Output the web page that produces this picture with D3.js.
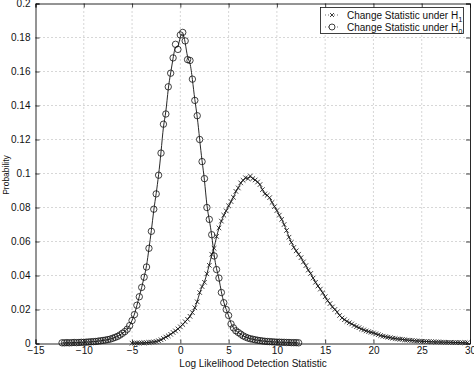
<!DOCTYPE html>
<html><head><meta charset="utf-8">
<script src="https://cdn.jsdelivr.net/npm/d3@7"></script>
<style>body{margin:0;background:#fff}text{font-family:"Liberation Sans",Arial,sans-serif;fill:#111}</style>
</head><body><svg id="c" width="474" height="369"></svg>
<script>
// ---- data ----
const xTicks = [-15,-10,-5,0,5,10,15,20,25,30];
const yTicks = [0,0.02,0.04,0.06,0.08,0.1,0.12,0.14,0.16,0.18,0.2];
const h0Start = -12.25, h0Step = 0.25;
const h0Values = [
 0.0004,0.0004,0.0005,0.0004,0.0005,0.0006,0.0005,0.0006,0.0007,0.0007,
 0.0008,0.0009,0.0010,0.0011,0.0012,0.0014,0.0016,0.0018,0.0020,0.0023,
 0.0026,0.0031,0.0036,0.0042,0.0050,0.0060,0.0070,0.0084,0.0105,0.0135,
 0.0170,0.0225,0.0275,0.0330,0.0390,0.0450,0.0560,0.0660,0.0790,0.0880,
 0.0990,0.1120,0.1290,0.1350,0.1510,0.1590,0.1680,0.1760,0.1730,0.1815,
 0.1830,0.1780,0.1670,0.1665,0.1555,0.1430,0.1340,0.1200,0.1070,0.0970,
 0.0800,0.0730,0.0640,0.0515,0.0435,0.0385,0.0300,0.0240,0.0200,0.0165,
 0.0115,0.0092,0.0075,0.0065,0.0055,0.0045,0.0038,0.0032,0.0028,0.0025,
 0.0022,0.0019,0.0017,0.0015,0.0013,0.0012,0.0011,0.0010,0.0009,0.0008,
 0.0008,0.0007,0.0007,0.0006,0.0006,0.0005,0.0005,0.0005,0.0004];
const h1Start = -5, h1Step = 0.25;
const h1Values = [
 0.0002,0.0002,0.0003,0.0003,0.0004,0.0004,0.0005,0.0006,0.0008,0.0009,
 0.0012,0.0016,0.0022,0.0030,0.0038,0.0045,0.0054,0.0065,0.0074,0.0086,
 0.0098,0.0112,0.0128,0.0142,0.0160,0.0182,0.0210,0.0245,0.0300,0.0335,
 0.0360,0.0410,0.0460,0.0525,0.0560,0.0630,0.0680,0.0720,0.0755,0.0780,
 0.0810,0.0835,0.0860,0.0895,0.0915,0.0945,0.0960,0.0975,0.0970,0.0985,
 0.0970,0.0962,0.0950,0.0935,0.0905,0.0880,0.0872,0.0858,0.0830,0.0805,
 0.0782,0.0755,0.0730,0.0700,0.0665,0.0625,0.0595,0.0565,0.0545,0.0525,
 0.0505,0.0480,0.0458,0.0432,0.0412,0.0385,0.0360,0.0338,0.0320,0.0298,
 0.0275,0.0252,0.0235,0.0215,0.0200,0.0185,0.0165,0.0150,0.0140,0.0130,
 0.0122,0.0115,0.0106,0.0099,0.0093,0.0085,0.0080,0.0074,0.0070,0.0066,
 0.0062,0.0057,0.0052,0.0047,0.0043,0.0040,0.0037,0.0034,0.0031,0.0029,
 0.0027,0.0025,0.0024,0.0022,0.0020,0.0019,0.0018,0.0016,0.0015,0.0014,
 0.0013,0.0012,0.0012,0.0011,0.0010,0.0010,0.0009,0.0009,0.0008,0.0008,
 0.0007,0.0007,0.0007,0.0006,0.0006,0.0006,0.0005,0.0005,0.0005,0.0005];
const legendLabels = [["Change Statistic under H","1"],["Change Statistic under H","0"]];
const xLabel = "Log Likelihood Detection Statistic";
const yLabel = "Probability";

// ---- chart ----
const svg = d3.select("#c");
const L = 35.5, R = 470, T = 3.5, B = 343.5;
const x = d3.scaleLinear().domain([-15,30]).range([L,R]);
const y = d3.scaleLinear().domain([0,0.2]).range([B,T]);
const h0 = h0Values.map((v,i)=>({x:h0Start+i*h0Step,y:v}));
const h1 = h1Values.map((v,i)=>({x:h1Start+i*h1Step,y:v}));
const fmtX = d => d<0 ? "\u2212"+Math.abs(d) : String(d);

// grid
const grid = svg.append("g").attr("stroke","#999").attr("stroke-width",0.8).attr("stroke-dasharray","1,3");
xTicks.slice(1,-1).forEach(t=>grid.append("line").attr("x1",x(t)).attr("x2",x(t)).attr("y1",T).attr("y2",B));
yTicks.slice(1,-1).forEach(t=>grid.append("line").attr("y1",y(t)).attr("y2",y(t)).attr("x1",L).attr("x2",R));

// axes (ticks inward)
const axB = d3.axisBottom(x).tickValues(xTicks).tickSize(-4).tickPadding(3.5).tickFormat(fmtX);
const axT = d3.axisTop(x).tickValues(xTicks).tickSize(-4).tickFormat("");
const axL = d3.axisLeft(y).tickValues(yTicks).tickSize(-4).tickPadding(5).tickFormat(d=>d===0?"0":String(+d.toFixed(2)));
const axR = d3.axisRight(y).tickValues(yTicks).tickSize(-4).tickFormat("");
function style(g){g.select(".domain").attr("stroke","#111").attr("stroke-width",0.9);g.selectAll(".tick line").attr("stroke","#111").attr("stroke-width",0.8);g.selectAll("text").attr("font-size",10).attr("fill","#111").attr("font-family","Liberation Sans, Arial, sans-serif");}
svg.append("g").attr("transform",`translate(0,${B})`).call(axB).call(style);
svg.append("g").attr("transform",`translate(0,${T})`).call(axT).call(style);
svg.append("g").attr("transform",`translate(${L},0)`).call(axL).call(style);
svg.append("g").attr("transform",`translate(${R},0)`).call(axR).call(style);

// lines
const line = d3.line().x(d=>x(d.x)).y(d=>y(d.y)).curve(d3.curveBasis);
svg.append("path").datum(h0).attr("d",line).attr("fill","none").attr("stroke","#111").attr("stroke-width",0.9);
svg.append("path").datum(h1).attr("d",line).attr("fill","none").attr("stroke","#111").attr("stroke-width",0.9);

// markers
svg.append("g").selectAll("circle").data(h0).join("circle")
  .attr("cx",d=>x(d.x)).attr("cy",d=>y(d.y)).attr("r",3.2)
  .attr("fill","none").attr("stroke","#111").attr("stroke-width",0.8);
const cs = 2.3;
svg.append("g").selectAll("path").data(h1).join("path")
  .attr("d",d=>{const px=x(d.x),py=y(d.y);return `M${px-cs},${py-cs}L${px+cs},${py+cs}M${px-cs},${py+cs}L${px+cs},${py-cs}`;})
  .attr("fill","none").attr("stroke","#111").attr("stroke-width",0.8);

// labels
svg.append("text").attr("x",253).attr("y",367).attr("text-anchor","middle").attr("font-size",10).text(xLabel);
svg.append("text").attr("transform",`translate(9,175) rotate(-90)`).attr("text-anchor","middle").attr("font-size",8.5).text(yLabel);

// legend
const lg = svg.append("g");
lg.append("rect").attr("x",320.5).attr("y",7.5).attr("width",143).attr("height",26).attr("fill","#fff").attr("stroke","#111").attr("stroke-width",0.8);
legendLabels.forEach((lab,i)=>{
  const cy = 15 + i*12, mx = 332;
  lg.append("line").attr("x1",mx-7).attr("x2",mx+7).attr("y1",cy).attr("y2",cy).attr("stroke","#111").attr("stroke-width",0.6).attr("stroke-dasharray","1,2");
  if(i===0){lg.append("path").attr("d",`M${mx-2},${cy-2}L${mx+2},${cy+2}M${mx-2},${cy+2}L${mx+2},${cy-2}`).attr("stroke","#111").attr("stroke-width",0.8);}
  else {lg.append("circle").attr("cx",mx).attr("cy",cy).attr("r",3).attr("fill","#fff").attr("stroke","#111").attr("stroke-width",0.8);}
  const t = lg.append("text").attr("x",347).attr("y",cy+3.5).attr("font-size",10);
  t.append("tspan").text(lab[0]);
  t.append("tspan").attr("dy",3).attr("font-size",7.5).text(lab[1]);
});
</script></body></html>
